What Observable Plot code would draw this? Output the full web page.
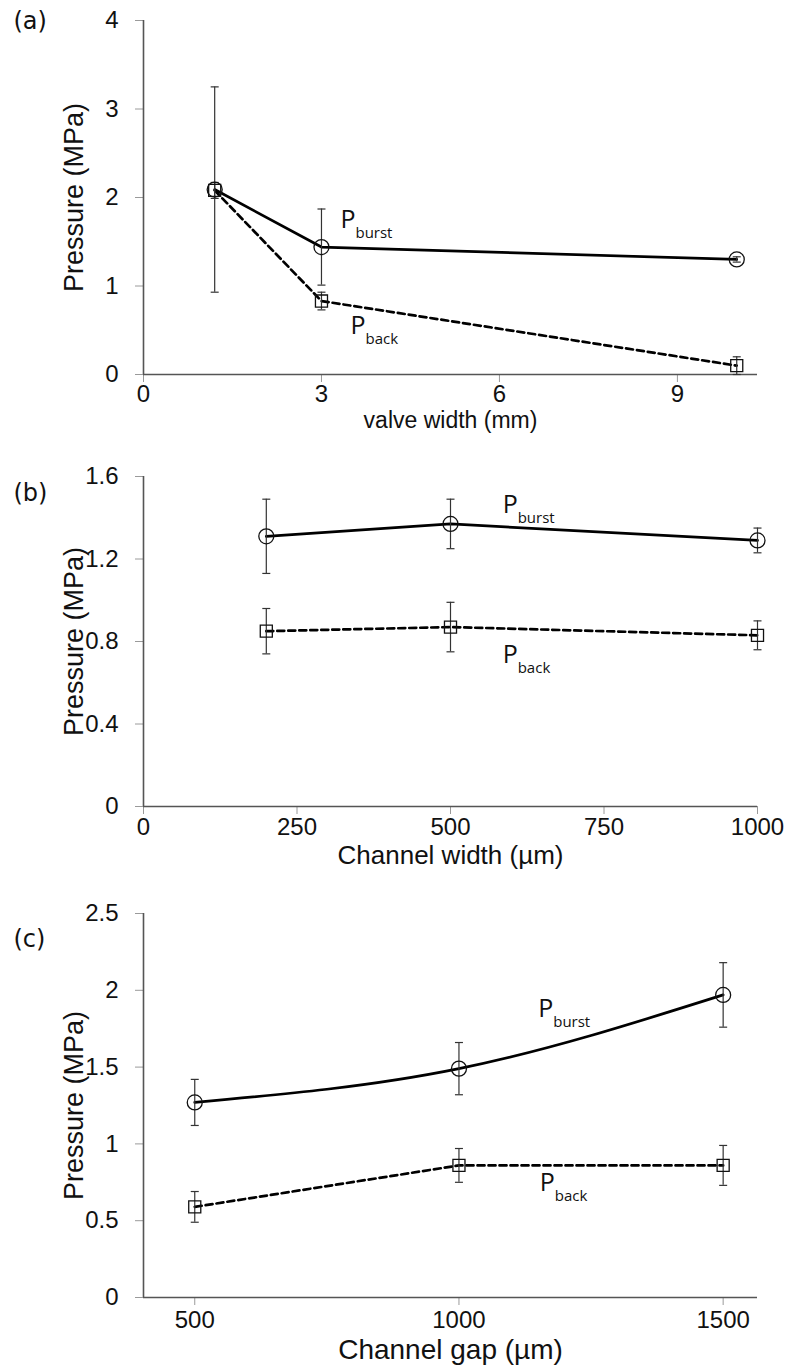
<!DOCTYPE html>
<html>
<head>
<meta charset="utf-8">
<script src="https://cdn.jsdelivr.net/npm/d3@7"></script>
<script src="https://cdn.jsdelivr.net/npm/@observablehq/plot@0.6"></script>
<style>
  body { margin: 0; background: #fff; }
  #chart svg { display: block; }
</style>
</head>
<body>
<div id="chart"></div>
<script>
// ---- data -------------------------------------------------------------
// (a) pressure vs valve width
const valveWidth = [1.2, 3, 10];
const burstA     = [2.09, 1.44, 1.30];
const burstErrA  = [1.16, 0.43, 0.03];
const backA      = [2.08, 0.83, 0.10];
const backErrA   = [0.09, 0.10, 0.10];

// (b) pressure vs channel width
const channelWidth = [200, 500, 1000];
const burstB       = [1.31, 1.37, 1.29];
const burstErrB    = [0.18, 0.12, 0.06];
const backB        = [0.85, 0.87, 0.83];
const backErrB     = [0.11, 0.12, 0.07];

// (c) pressure vs channel gap
const channelGap = [500, 1000, 1500];
const burstC     = [1.27, 1.49, 1.97];
const burstErrC  = [0.15, 0.17, 0.21];
const backC      = [0.59, 0.86, 0.86];
const backErrC   = [0.10, 0.11, 0.13];

// axis ticks
const xTicksA = [0, 3, 6, 9];
const yTicksA = [0, 1, 2, 3, 4];
const xTicksB = [0, 250, 500, 750, 1000];
const yTicksB = [0, 0.4, 0.8, 1.2, 1.6];
const xTicksC = [500, 1000, 1500];
const yTicksC = [0, 0.5, 1, 1.5, 2, 2.5];

const panelTags = ["(a)", "(b)", "(c)"];
const xTitles = ["valve width (mm)", "Channel width (µm)", "Channel gap (µm)"];
const yTitle = "Pressure (MPa)";
const seriesSubs = ["burst", "back"];

// ---- helpers ----------------------------------------------------------
const rows = (xs, ys, es) => xs.map((x, i) => ({x, y: ys[i], lo: ys[i] - es[i], hi: ys[i] + es[i]}));

// horizontal cap for error bars (width = 2r)
const capSymbol = {
  draw(context, size) {
    const r = Math.sqrt(size / Math.PI);
    context.moveTo(-r, 0);
    context.lineTo(r, 0);
  }
};

const ink = "#111";
const sans = "Liberation Sans, Arial, sans-serif";
const labelFont = "Open Sans, sans-serif";

function panel(cfg) {
  const burstRows = rows(cfg.xs, cfg.burst, cfg.burstErr);
  const backRows = rows(cfg.xs, cfg.back, cfg.backErr);
  const labelRows = [
    {x: cfg.labelBurst[0], y: cfg.labelBurst[1], sub: seriesSubs[0]},
    {x: cfg.labelBack[0], y: cfg.labelBack[1], sub: seriesSubs[1]}
  ];
  const errMarks = (data) => [
    Plot.ruleX(data, {x: "x", y1: "lo", y2: "hi", stroke: "#333", strokeWidth: 1.2}),
    Plot.dot(data, {x: "x", y: "lo", symbol: capSymbol, r: 4, stroke: "#333", strokeWidth: 1.2, fill: "none"}),
    Plot.dot(data, {x: "x", y: "hi", symbol: capSymbol, r: 4, stroke: "#333", strokeWidth: 1.2, fill: "none"})
  ];
  return Plot.plot({
    width: 788,
    height: cfg.height,
    marginLeft: 143,
    marginRight: 31,
    marginTop: cfg.marginTop,
    marginBottom: cfg.marginBottom,
    x: {domain: cfg.xDomain},
    y: {domain: cfg.yDomain},
    style: {fontFamily: sans, background: "#fff", color: ink, overflow: "visible"},
    marks: [
      Plot.axisY({ticks: cfg.yTicks, tickSize: 8, tickPadding: 17, stroke: "#9a9a9a", fill: ink,
                  fontFamily: sans, fontSize: 24, tickFormat: d => String(d), label: null}),
      Plot.axisX({ticks: cfg.xTicks, tickSize: 8, tickPadding: cfg.xTickPad, stroke: "#9a9a9a", fill: ink,
                  fontFamily: sans, fontSize: cfg.xTickFont, tickFormat: d => String(d), label: null}),
      Plot.ruleX([cfg.xDomain[0]], {y1: cfg.yDomain[0], y2: cfg.yDomain[1], stroke: "#555", strokeWidth: 1.6}),
      Plot.ruleY([cfg.yDomain[0]], {x1: cfg.xDomain[0], x2: cfg.xDomain[1], stroke: "#555", strokeWidth: 1.6}),
      Plot.line(burstRows, {x: "x", y: "y", stroke: "#000", strokeWidth: 2.7, curve: cfg.burstCurve || "linear"}),
      Plot.line(backRows, {x: "x", y: "y", stroke: "#000", strokeWidth: 2.7, strokeDasharray: "7,4"}),
      ...errMarks(burstRows),
      ...errMarks(backRows),
      Plot.dot(burstRows, {x: "x", y: "y", r: 7.5, stroke: ink, strokeWidth: 1.3, fill: "none"}),
      Plot.dot(backRows, {x: "x", y: "y", symbol: "square", r: 6.8, stroke: ink, strokeWidth: 1.3, fill: "none"}),
      // P_burst / P_back annotations
      Plot.text(labelRows, {x: "x", y: "y", text: () => "P", textAnchor: "start", lineAnchor: "bottom",
                            fontFamily: labelFont, fontSize: 25, fill: ink}),
      Plot.text(labelRows, {x: "x", y: "y", text: "sub", dx: 15, dy: 10, textAnchor: "start", lineAnchor: "bottom",
                            fontFamily: labelFont, fontSize: 15, fill: ink}),
      // panel tag
      Plot.text([cfg.tag], {frameAnchor: "top-left", dx: -130, dy: cfg.tagDy, textAnchor: "start", lineAnchor: "bottom",
                            fontFamily: "DejaVu Sans, sans-serif", fontSize: 24, fill: ink}),
      // axis titles
      Plot.text([cfg.xTitle], {frameAnchor: "bottom", dy: cfg.xTitleDy, textAnchor: "middle", lineAnchor: "middle",
                               fontFamily: sans, fontSize: cfg.xTitleFont, fill: ink}),
      Plot.text([yTitle], {frameAnchor: "left", dx: -69, rotate: -90, textAnchor: "middle", lineAnchor: "middle",
                           fontFamily: sans, fontSize: 27, fill: ink})
    ]
  });
}

const chart = document.getElementById("chart");

chart.append(panel({
  xs: valveWidth, burst: burstA, burstErr: burstErrA, back: backA, backErr: backErrA,
  xDomain: [0, 10.35], yDomain: [0, 4], xTicks: xTicksA, yTicks: yTicksA,
  height: 440, marginTop: 20, marginBottom: 66,
  xTickPad: 2, xTickFont: 24, xTitleDy: 46, xTitleFont: 23, tagDy: 8,
  tag: panelTags[0], xTitle: xTitles[0],
  labelBurst: [3.32, 1.65], labelBack: [3.49, 0.46]
}));

chart.append(panel({
  xs: channelWidth, burst: burstB, burstErr: burstErrB, back: backB, backErr: backErrB,
  xDomain: [0, 1000], yDomain: [0, 1.6], xTicks: xTicksB, yTicks: yTicksB,
  height: 440, marginTop: 36, marginBottom: 74,
  xTickPad: 3, xTickFont: 24, xTitleDy: 49, xTitleFont: 26, tagDy: 24,
  tag: panelTags[1], xTitle: xTitles[1],
  labelBurst: [585, 1.425], labelBack: [585, 0.698]
}));

chart.append(panel({
  xs: channelGap, burst: burstC, burstErr: burstErrC, back: backC, backErr: backErrC,
  xDomain: [403, 1565], yDomain: [0, 2.5], xTicks: xTicksC, yTicks: yTicksC,
  height: 486, marginTop: 33, marginBottom: 69,
  xTickPad: 5, xTickFont: 24, xTitleDy: 53, xTitleFont: 28, tagDy: 33,
  tag: panelTags[2], xTitle: xTitles[2], burstCurve: "monotone-x",
  labelBurst: [1150, 1.825], labelBack: [1153, 0.696]
}));
</script>
</body>
</html>
